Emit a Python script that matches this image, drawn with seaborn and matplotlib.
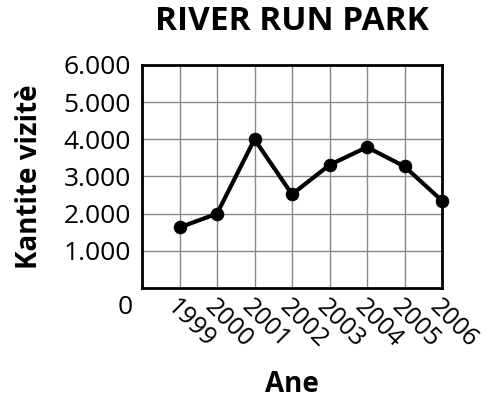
import matplotlib
matplotlib.use("Agg")
import matplotlib.pyplot as plt
import seaborn as sns
import pandas as pd

years = [1999, 2000, 2001, 2002, 2003, 2004, 2005, 2006]
visits = [1630, 2000, 4000, 2520, 3310, 3790, 3270, 2350]
ytick_vals = [1000, 2000, 3000, 4000, 5000, 6000]
ytick_labels = ["1.000", "2.000", "3.000", "4.000", "5.000", "6.000"]

sns.set_style("white")
plt.rcParams['font.family'] = ['Open Sans', 'DejaVu Sans']
plt.rcParams.update({"text.color": "black", "axes.labelcolor": "black",
                     "xtick.color": "black", "ytick.color": "black"})

df = pd.DataFrame({"Ane": years, "Vizite": visits})

fig = plt.figure(figsize=(4.87, 4.04), dpi=100)
ax = fig.add_axes([142/487, 1-288/404, 300/487, 223/404])

ax.grid(True, color="#888888", linewidth=1.0)
ax.set_axisbelow(True)

sns.lineplot(data=df, x="Ane", y="Vizite", ax=ax, color="black", linewidth=3,
             marker="o", markersize=9, markeredgecolor="black", clip_on=False, zorder=5)

ax.set_xlim(1998, 2006)
ax.set_ylim(0, 6000)
ax.set_yticks(ytick_vals)
ax.set_yticklabels(ytick_labels, fontsize=19)
ax.set_xticks([1998] + years)
ax.set_xticklabels([""] + [str(y) for y in years], rotation=-45, ha="left", va="top",
                   rotation_mode="anchor", fontsize=18)
ax.tick_params(axis="both", length=0)
ax.tick_params(axis="y", pad=8)
ax.tick_params(axis="x", pad=5)

ax.annotate("0", xy=(0, 0), xycoords=("axes fraction", "data"), xytext=(-7, -5),
            textcoords="offset points", ha="right", va="top", fontsize=19)

for s in ax.spines.values():
    s.set_color("black")
    s.set_linewidth(2)

ax.set_xlabel("Ane", fontsize=20, fontweight="bold", labelpad=12)
ax.set_ylabel("Kantite vizitè", fontsize=20, fontweight="bold", labelpad=14)
ax.set_title("RIVER RUN PARK", fontsize=24, fontweight="bold", pad=25)

fig.savefig("out.png", dpi=100)
